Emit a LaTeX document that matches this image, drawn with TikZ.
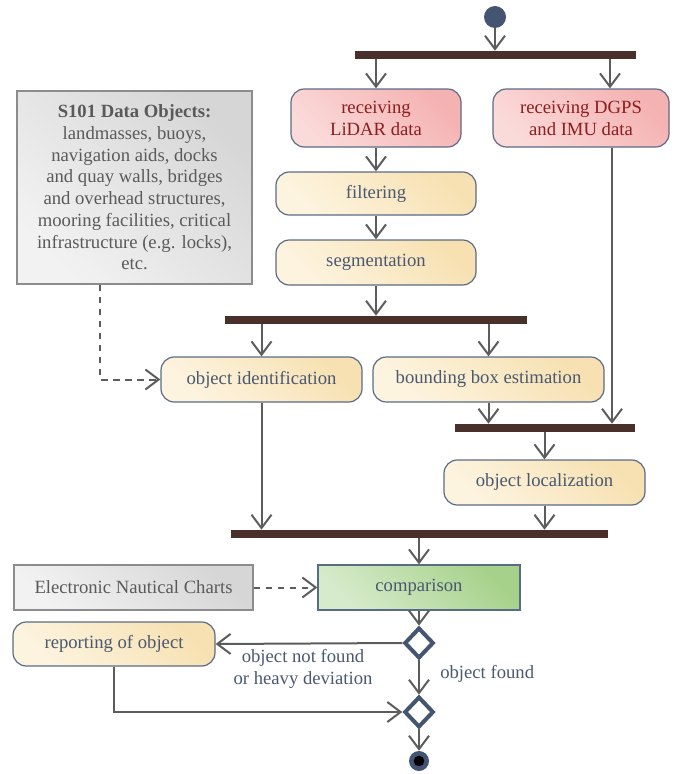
\documentclass[tikz,border=0pt]{standalone}
\usepackage{fontspec}
\setmainfont{Liberation Serif}
\usetikzlibrary{arrows.meta,shapes.geometric,calc}
\definecolor{slate}{HTML}{435570}
\definecolor{edge}{HTML}{5A6B85}
\definecolor{linegray}{HTML}{5C5C5C}
\definecolor{barbrown}{HTML}{4A302A}
\definecolor{redtext}{HTML}{8B1E1E}
\definecolor{slatetext}{HTML}{4A5870}
\definecolor{graytext}{HTML}{5A5A5A}
\definecolor{begA}{HTML}{FDF4E0}
\definecolor{begB}{HTML}{F7E1B2}
\definecolor{redA}{HTML}{FBDADA}
\definecolor{redB}{HTML}{F5B2B2}
\definecolor{grnA}{HTML}{D6EBCB}
\definecolor{grnB}{HTML}{A6D18A}
\definecolor{gryA}{HTML}{F2F2F2}
\definecolor{gryB}{HTML}{D6D6D6}
\tikzset{
  act/.style={draw=edge, line width=0.9pt, rounded corners=10pt, inner sep=0pt,
    align=center, font=\fontsize{14}{16.5}\selectfont, text=slatetext,
    bottom color=begA, top color=begB, shading angle=-45},
  redact/.style={act, bottom color=redA, top color=redB, shading angle=-45, text=redtext},
  grnact/.style={draw=edge, line width=0.9pt, inner sep=0pt, align=center,
    font=\fontsize{14}{16.5}\selectfont, text=slatetext,
    bottom color=grnA, top color=grnB, shading angle=-45},
  obj/.style={draw=gray!90, line width=0.9pt, inner sep=0pt, align=center,
    text=graytext, bottom color=gryA, top color=gryB, shading angle=-45},
  bar/.style={fill=barbrown, draw=none, inner sep=0pt, minimum height=6pt},
  arr/.style={draw=linegray, line width=1.5pt,
    -{Straight Barb[length=10pt,width=15pt]}},
  darr/.style={arr, dashed, dash pattern=on 5pt off 4pt},
  dec/.style={diamond, draw=slate, fill=white, line width=3pt, inner sep=0pt,
    minimum width=22pt, minimum height=23pt},
  lbl/.style={text=slatetext, font=\fontsize{14}{16}\selectfont, align=center, inner sep=0pt}
}
\begin{document}
\begin{tikzpicture}[x=0.75pt,y=-0.75pt]
\useasboundingbox (0,0) rectangle (680,774);
% start
\node[circle, fill=slate, minimum size=16.5pt, inner sep=0pt] (start) at (495,17) {};
% bars
\node[bar, minimum width=210.75pt] (bar1) at (495.5,55) {};
\node[bar, minimum width=226.5pt] (bar2) at (376,320) {};
\node[bar, minimum width=135pt] (bar3) at (545,428) {};
\node[bar, minimum width=282.75pt] (bar4) at (419.5,534) {};
% activities
\node[redact, minimum width=127.5pt, minimum height=43.5pt] (lidar) at (376,118) {receiving\\LiDAR data};
\node[redact, minimum width=132pt, minimum height=43.5pt] (dgps) at (581,118) {receiving DGPS\\and IMU data};
\node[act, minimum width=150pt, minimum height=32.25pt] (filt) at (376,193.5) {filtering};
\node[act, minimum width=150pt, minimum height=33.75pt] (seg) at (376,262.5) {segmentation};
\node[act, minimum width=150.75pt, minimum height=33.75pt] (objid) at (261.5,379.5) {object identification};
\node[act, minimum width=173.25pt, minimum height=33.75pt] (bbox) at (488.5,379.5) {bounding box estimation};
\node[act, minimum width=150.75pt, minimum height=33.75pt] (objloc) at (544.5,482.5) {object localization};
\node[grnact, minimum width=151.5pt, minimum height=33.75pt] (comp) at (419,587.5) {comparison};
\node[act, minimum width=151.5pt, minimum height=33pt] (rep) at (114,644) {reporting of object};
% objects
\node[obj, minimum width=176.25pt, minimum height=144.75pt,
  font=\fontsize{14}{16.3}\selectfont] (s101) at (134.5,187.5)
  {\textbf{S101 Data Objects:}\\landmasses, buoys,\\navigation aids, docks\\and quay walls, bridges\\and overhead structures,\\mooring facilities, critical\\infrastructure (e.g. locks),\\etc.};
\node[obj, minimum width=179.25pt, minimum height=33.75pt,
  font=\fontsize{14}{16.5}\selectfont] (enc) at (133.5,587.5) {Electronic Nautical Charts};
% decisions and end
\node[dec] (dec1) at (419,643) {};
\node[dec] (dec2) at (419,712) {};
\node[circle, fill=slate, minimum size=15pt, inner sep=0pt] (end) at (419,761) {};
\node[circle, fill=black, minimum size=8pt, inner sep=0pt] (endin) at (end) {};
% helper coordinates
\coordinate (dgin) at ([xshift=21.75pt]dgps.north);
\coordinate (dgout) at ([xshift=23.25pt]dgps.south);
\coordinate (s101out) at ([xshift=-25.9pt]s101.south);
% arrows
\draw[arr] (start) -- (start |- bar1.north);
\draw[arr] (lidar.north |- bar1.south) -- (lidar.north);
\draw[arr] (dgin |- bar1.south) -- (dgin);
\draw[arr] (lidar) -- (filt);
\draw[arr] (filt) -- (seg);
\draw[arr] (seg.south) -- (seg.south |- bar2.north);
\draw[arr] (objid.north |- bar2.south) -- (objid.north);
\draw[arr] (bbox.north |- bar2.south) -- (bbox.north);
\draw[arr] (bbox.south) -- (bbox.south |- bar3.north);
\draw[arr] (dgout) -- (dgout |- bar3.north);
\draw[arr] (objloc.north |- bar3.south) -- (objloc.north);
\draw[arr] (objloc.south) -- (objloc.south |- bar4.north);
\draw[arr] (objid.south) -- (objid.south |- bar4.north);
\draw[arr] (comp.north |- bar4.south) -- (comp.north);
\draw[darr] (s101out) |- (objid.west);
\draw[darr] (enc.east) -- (comp.west);
\draw[arr] (comp.south) -- (dec1.north);
\draw[arr] (dec1.west) -- (rep.east);
\draw[arr] (dec1.south) -- (dec2.north);
\draw[arr] (rep.south) |- (dec2.west);
\draw[arr] (dec2.south) -- (end.north);
% labels
\node[lbl] (nf) at (303,669) {object not found\\or heavy deviation};
\node[lbl, anchor=west] (f) at (440,674) {object found};
\end{tikzpicture}
\end{document}
